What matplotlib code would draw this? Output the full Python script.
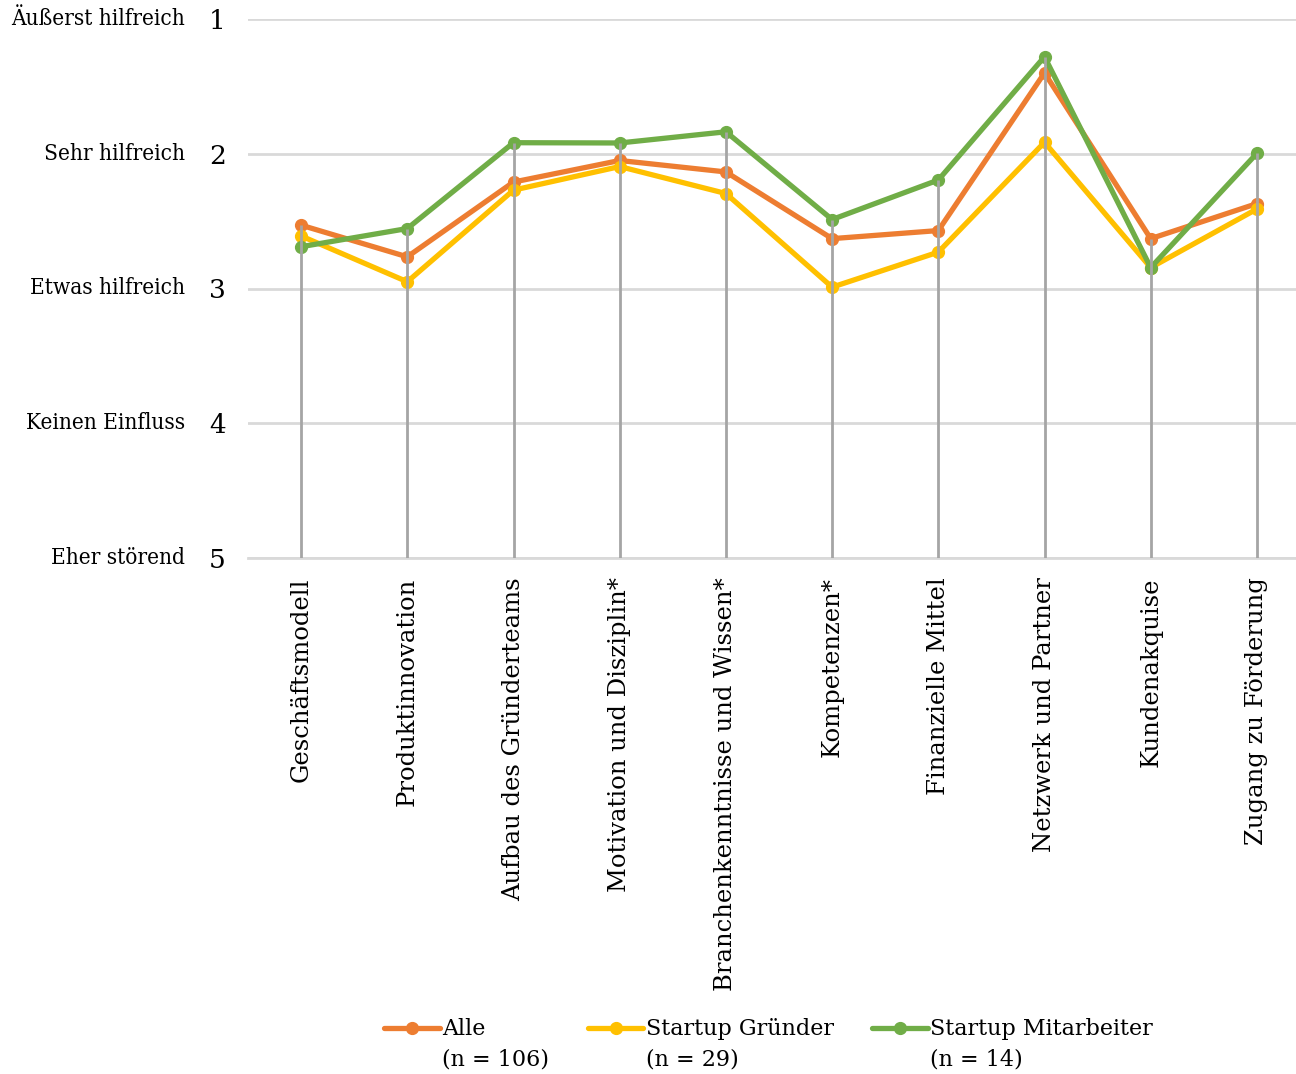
import matplotlib
matplotlib.use("Agg")
import matplotlib.pyplot as plt
import numpy as np
from matplotlib.legend_handler import HandlerLine2D
from matplotlib.lines import Line2D

categories = ["Geschäftsmodell", "Produktinnovation", "Aufbau des Gründerteams",
              "Motivation und Disziplin*", "Branchenkenntnisse und Wissen*", "Kompetenzen*",
              "Finanzielle Mittel", "Netzwerk und Partner", "Kundenakquise", "Zugang zu Förderung"]
alle = [2.53, 2.765, 2.21, 2.05, 2.135, 2.63, 2.57, 1.40, 2.63, 2.37]
gruender = [2.61, 2.95, 2.27, 2.095, 2.295, 2.99, 2.73, 1.915, 2.845, 2.41]
mitarbeiter = [2.69, 2.555, 1.918, 1.92, 1.837, 2.488, 2.195, 1.28, 2.845, 1.997]
series_labels = ["Alle\n(n = 106)", "Startup Gründer\n(n = 29)", "Startup Mitarbeiter\n(n = 14)"]
y_ticks = [1, 2, 3, 4, 5]
y_names = ["Äußerst hilfreich", "Sehr hilfreich", "Etwas hilfreich", "Keinen Einfluss", "Eher störend"]

colors = ["#ED7D31", "#FFC000", "#70AD47"]
FONT = "DejaVu Serif"
plt.rcParams["font.family"] = FONT

fig = plt.figure(figsize=(12.96, 10.74), dpi=100)
ax = fig.add_axes([248/1296, 1-558/1074, 1062/1296, (558-19)/1074])

x = np.arange(len(categories))
for vals, c, lab in zip([alle, gruender, mitarbeiter], colors, series_labels):
    ax.plot(x, vals, color=c, lw=3.8, marker="o", ms=8.5, label=lab, zorder=3,
            solid_capstyle="round")

top = np.min(np.array([alle, gruender, mitarbeiter]), axis=0)
ax.vlines(x, top, 5, color="#a5a5a5", lw=2.0, zorder=4)

ax.set_xlim(-0.5, len(categories) - 0.5)
ax.set_ylim(5, 1)
ax.set_yticks(y_ticks)
ax.set_yticklabels([str(t) for t in y_ticks], fontsize=19)
ax.yaxis.grid(True, color="#d9d9d9", lw=2)
ax.set_axisbelow(True)
ax.tick_params(axis="y", length=0, pad=16)
ax.set_xticks(x)
ax.set_xticklabels(categories, rotation=90, fontsize=17.5, va="top", ha="center")
ax.tick_params(axis="x", length=0, pad=14)
for s in ["left", "right", "top"]:
    ax.spines[s].set_visible(False)
ax.spines["bottom"].set_color("#d9d9d9")
ax.spines["bottom"].set_linewidth(2)

tr = matplotlib.transforms.blended_transform_factory(ax.transAxes, ax.transData)
for t, n in zip(y_ticks, y_names):
    ax.text(-0.0593, t, n, transform=tr, ha="right", va="center", fontsize=16.2,
            fontstretch="condensed")


class TopHandler(HandlerLine2D):
    def create_artists(self, legend, orig_handle, xdescent, ydescent, width, height, fontsize, trans):
        arts = super().create_artists(legend, orig_handle, xdescent, ydescent, width, height, fontsize, trans)
        for a in arts:
            yd = np.asarray(a.get_ydata(), dtype=float)
            a.set_ydata(yd + 0.75 * fontsize)
        return arts


handles, labels = ax.get_legend_handles_labels()
leg = fig.legend(handles, labels, loc="lower center", bbox_to_anchor=(0.593, -0.015), ncol=3,
                 frameon=False, fontsize=16, handlelength=2.5, handletextpad=0.1,
                 columnspacing=1.75, handler_map={Line2D: TopHandler()})
for t in leg.get_texts():
    t.set_linespacing(1.45)

fig.savefig("out.png", dpi=100)
